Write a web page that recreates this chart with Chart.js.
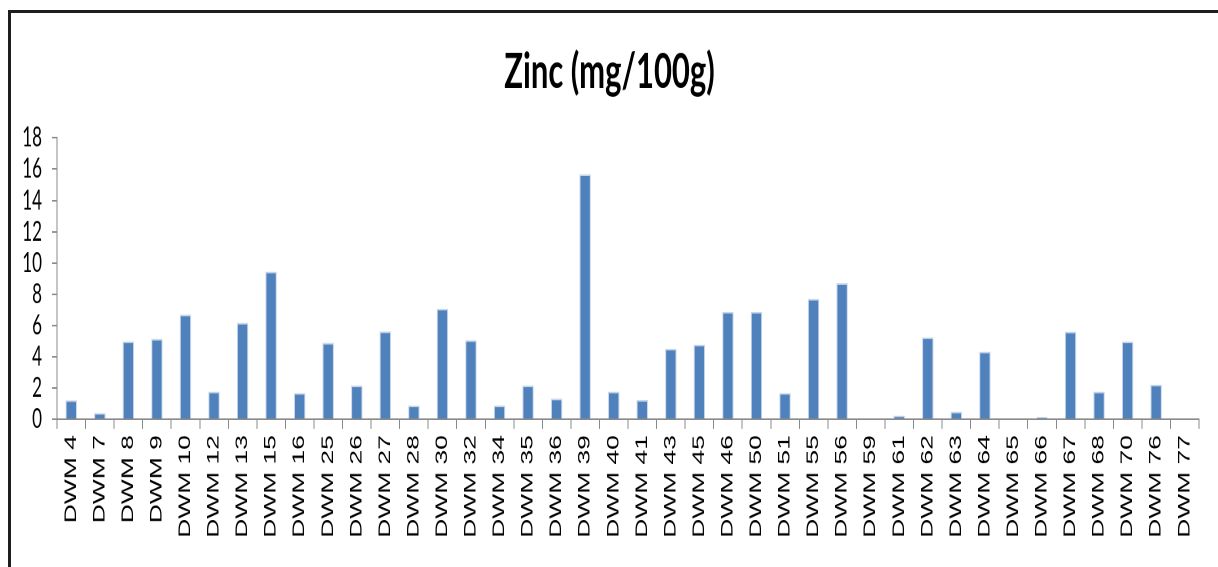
<!DOCTYPE html>
<html>
<head>
<meta charset="utf-8">
<script src="https://cdn.jsdelivr.net/npm/chart.js@4"></script>
<style>
  html,body{margin:0;padding:0;background:#fff;overflow:hidden;width:1218px;height:567px;}
  #frame{position:absolute;left:8px;top:10px;width:1300px;height:700px;
    border-top:3px solid #1e1e1e;border-left:3px solid #1e1e1e;}
  /* la imagen original esta estirada en vertical: se escala el canvas */
  #chart{position:absolute;left:0;top:0;width:1218px;height:355px;
    transform:scaleY(1.6);transform-origin:0 0;}
</style>
</head>
<body>
<div id="frame"></div>
<canvas id="chart" width="1218" height="355"></canvas>
<script>
// Datos
const categories = ['DWM 4','DWM 7','DWM 8','DWM 9','DWM 10','DWM 12','DWM 13','DWM 15','DWM 16','DWM 25',
  'DWM 26','DWM 27','DWM 28','DWM 30','DWM 32','DWM 34','DWM 35','DWM 36','DWM 39','DWM 40',
  'DWM 41','DWM 43','DWM 45','DWM 46','DWM 50','DWM 51','DWM 55','DWM 56','DWM 59','DWM 61',
  'DWM 62','DWM 63','DWM 64','DWM 65','DWM 66','DWM 67','DWM 68','DWM 70','DWM 76','DWM 77'];
const zinc = [1.21,0.40,4.98,5.15,6.70,1.77,6.17,9.45,1.68,4.89,
  2.15,5.62,0.87,7.06,5.06,0.87,2.15,1.32,15.66,1.77,
  1.23,4.51,4.77,6.87,6.87,1.68,7.70,8.70,0,0.23,
  5.23,0.49,4.32,0,0.13,5.60,1.77,4.96,2.21,0];
const yMin = 0, yMax = 18, yStep = 2;
const title = 'Zinc (mg/100g)';

const axisColor = '#8a8a8a';

new Chart(document.getElementById('chart'), {
  type: 'bar',
  data: {
    labels: categories,
    datasets: [{ label: title, data: zinc, backgroundColor: '#4F81BD',
      borderColor: '#c9d7ea', borderWidth: {top:1, left:1, right:1, bottom:0},
      barPercentage: 0.4, categoryPercentage: 1.0 }]
  },
  options: {
    responsive: false,
    animation: false,
    devicePixelRatio: 2,
    layout: { padding: { left: 20, right: 19, top: 0, bottom: 0 } },
    plugins: {
      legend: { display: false },
      tooltip: { enabled: false },
      title: { display: true, text: title, color: '#000',
        font: { family: 'Lato', size: 31, weight: 'bold' },
        padding: { top: 26.5, bottom: 22.5 } }
    },
    scales: {
      x: {
        grid: { display: true, offset: true, drawOnChartArea: false, drawTicks: true,
          tickLength: 6, color: axisColor },
        border: { display: true, color: axisColor },
        ticks: { autoSkip: false, minRotation: 90, maxRotation: 90, padding: 4, color: '#000',
          font: { family: 'Liberation Sans', size: 16.5 } },
        afterFit: (s)=> { s.height = 93; }
      },
      y: {
        min: yMin, max: yMax,
        grid: { drawOnChartArea: false, drawTicks: true, tickLength: 5, color: axisColor },
        border: { display: true, color: axisColor },
        ticks: { stepSize: yStep, autoSkip: false, padding: 10, color: '#000',
          font: { family: 'Lato', size: 17 } },
        afterFit: (s)=> { s.width = 37; }
      }
    }
  }
});
</script>
</body>
</html>
